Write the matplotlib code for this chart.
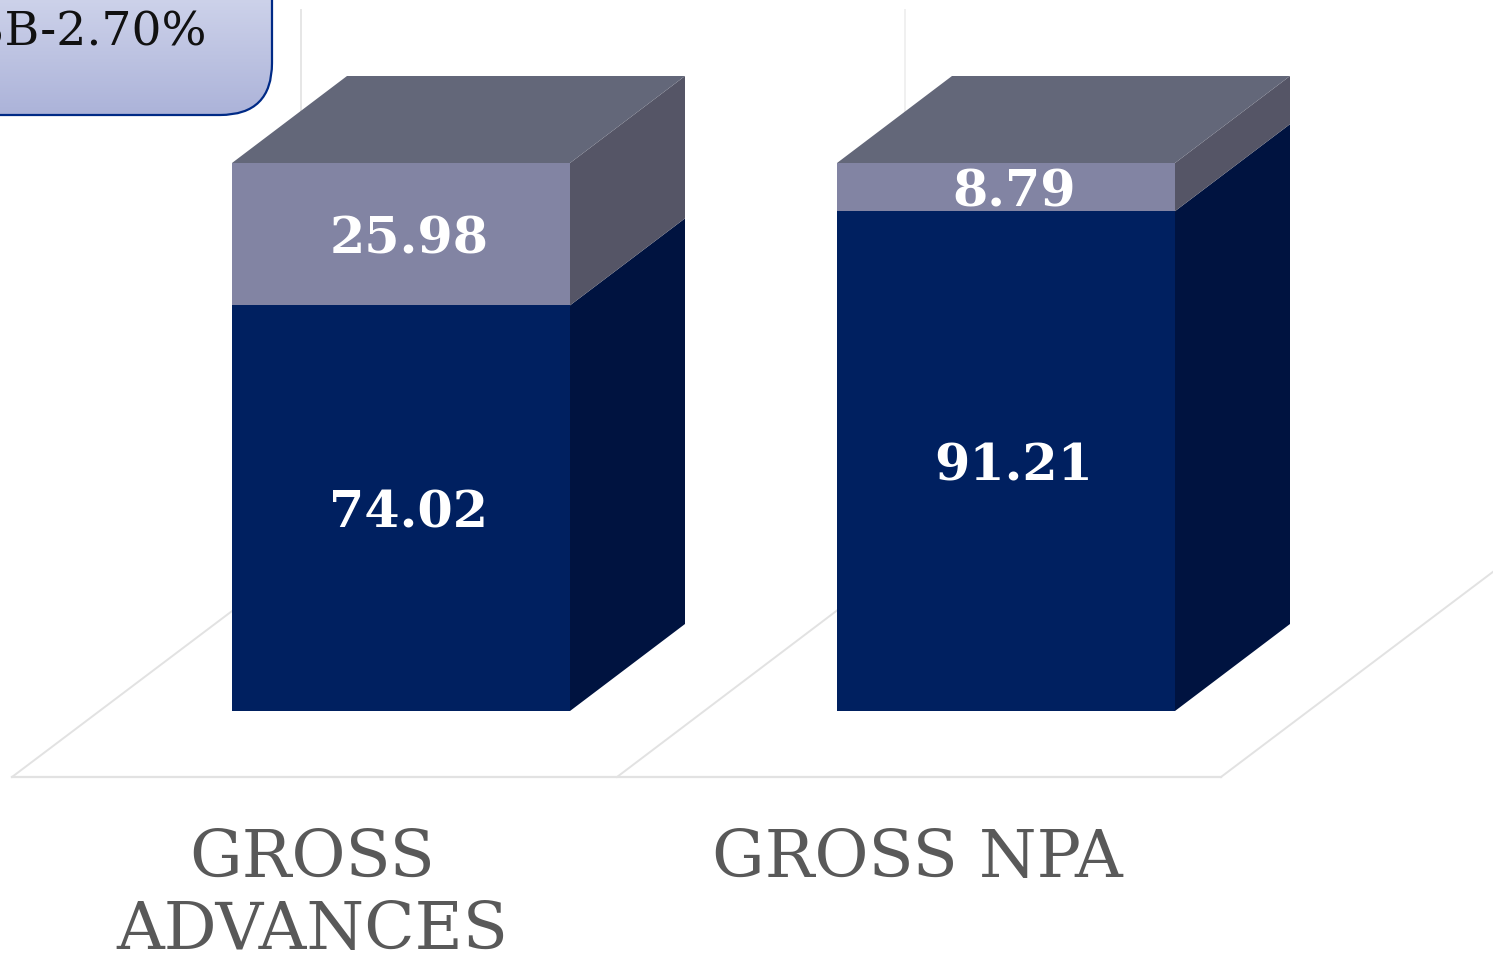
import numpy as np
import matplotlib
matplotlib.use('Agg')
import matplotlib.pyplot as plt
from matplotlib.patches import FancyBboxPatch, Polygon

# Values
categories = ['GROSS\nADVANCES', 'GROSS NPA']
lower_values = [74.02, 91.21]
upper_values = [25.98, 8.79]
callout_text = 'SB-2.70%'

W, H = 1493, 957
BASE_PX = 711     # pixel row of value 0
PX_PER_UNIT = 5.48
FIRST_BAR_PX = 401
BAR_STEP_PX = 605
BAR_W_PX = 338
DEPTH_X_PX = 115
DEPTH_Y_PX = 87

plt.rcParams['font.family'] = 'DejaVu Serif'

fig = plt.figure(figsize=(W / 100, H / 100), dpi=100, facecolor='white')

# Background axes in pixels: chart walls, floor and callout box
bg = fig.add_axes([0, 0, 1, 1], zorder=1)
bg.set_xlim(0, W)
bg.set_ylim(H, 0)
bg.axis('off')

bg.plot([12, 1221], [777, 777], color='#e2e2e2', lw=1.6)
bg.plot([12, 301], [777, 559], color='#e2e2e2', lw=1.4)
bg.plot([617, 905], [777, 559], color='#e2e2e2', lw=1.4)
bg.plot([1221, 1510], [777, 559], color='#e2e2e2', lw=1.4)
bg.plot([301, 301], [10, 559], color='#e6e6e6', lw=1.4)
bg.plot([905, 905], [10, 559], color='#f0f0f0', lw=1.4)

box = FancyBboxPatch((-100, -100), 372, 215, boxstyle='round,pad=0,rounding_size=52',
                     facecolor='none', edgecolor='#002a86', lw=1.6, zorder=3)
bg.add_patch(box)
grad = np.linspace(0, 1, 256).reshape(-1, 1)
colors = np.array([[205, 210, 234]]) * (1 - grad) + np.array([[172, 179, 217]]) * grad
img = bg.imshow(colors[:, np.newaxis, :].astype(np.uint8), extent=(-100, 272, 115, 0),
                aspect='auto', zorder=2)
img.set_clip_path(box)
bg.set_xlim(0, W)
bg.set_ylim(H, 0)
bg.text(206, 45, callout_text, ha='right', va='baseline', fontsize=34, color='#111111', zorder=4)

# Main axes: x in category positions, y in chart values
ax = fig.add_axes([0, 0, 1, 1], zorder=2)
ax.patch.set_alpha(0)
ax.set_xlim(-FIRST_BAR_PX / BAR_STEP_PX, (W - FIRST_BAR_PX) / BAR_STEP_PX)
ax.set_ylim(-(H - BASE_PX) / PX_PER_UNIT, BASE_PX / PX_PER_UNIT)
ax.axis('off')

bar_w = BAR_W_PX / BAR_STEP_PX
dx = DEPTH_X_PX / BAR_STEP_PX
dy = DEPTH_Y_PX / PX_PER_UNIT
x_pos = np.arange(len(categories))

FRONT_LOW, SIDE_LOW = '#002060', '#001340'
FRONT_UP, SIDE_UP, TOP_UP = '#8284a3', '#555566', '#636779'

ax.bar(x_pos, lower_values, bar_w, color=FRONT_LOW, zorder=3)
ax.bar(x_pos, upper_values, bar_w, bottom=lower_values, color=FRONT_UP, zorder=3)

label_shift = 6 / PX_PER_UNIT  # value labels sit just below the segment middle
for i, (low, up) in enumerate(zip(lower_values, upper_values)):
    r = i + bar_w / 2
    l = i - bar_w / 2
    total = low + up
    ax.add_patch(Polygon([(r, 0), (r + dx, dy), (r + dx, low + dy), (r, low)], color=SIDE_LOW, lw=0, zorder=2))
    ax.add_patch(Polygon([(r, low), (r + dx, low + dy), (r + dx, total + dy), (r, total)], color=SIDE_UP, lw=0, zorder=2))
    ax.add_patch(Polygon([(l, total), (l + dx, total + dy), (r + dx, total + dy), (r, total)], color=TOP_UP, lw=0, zorder=2))
    # Value labels sit a little right of the bar centre
    tx = i + 8 / BAR_STEP_PX
    ax.text(tx, low / 2 - label_shift, f'{low:.2f}', ha='center', va='center', color='white',
            fontsize=36.5, fontweight='bold', zorder=5)
    ax.text(tx, low + up / 2 - label_shift, f'{up:.2f}', ha='center', va='center', color='white',
            fontsize=36.5, fontweight='bold', zorder=5)
    # Category labels are centred on the floor cell, not on the bar
    lx = i - 89 / BAR_STEP_PX
    ax.text(lx, -(827 - BASE_PX) / PX_PER_UNIT, categories[i], ha='center', va='top', color='#595959',
            fontsize=47.5, linespacing=1.15, zorder=5)

fig.savefig('out.png', dpi=100)
